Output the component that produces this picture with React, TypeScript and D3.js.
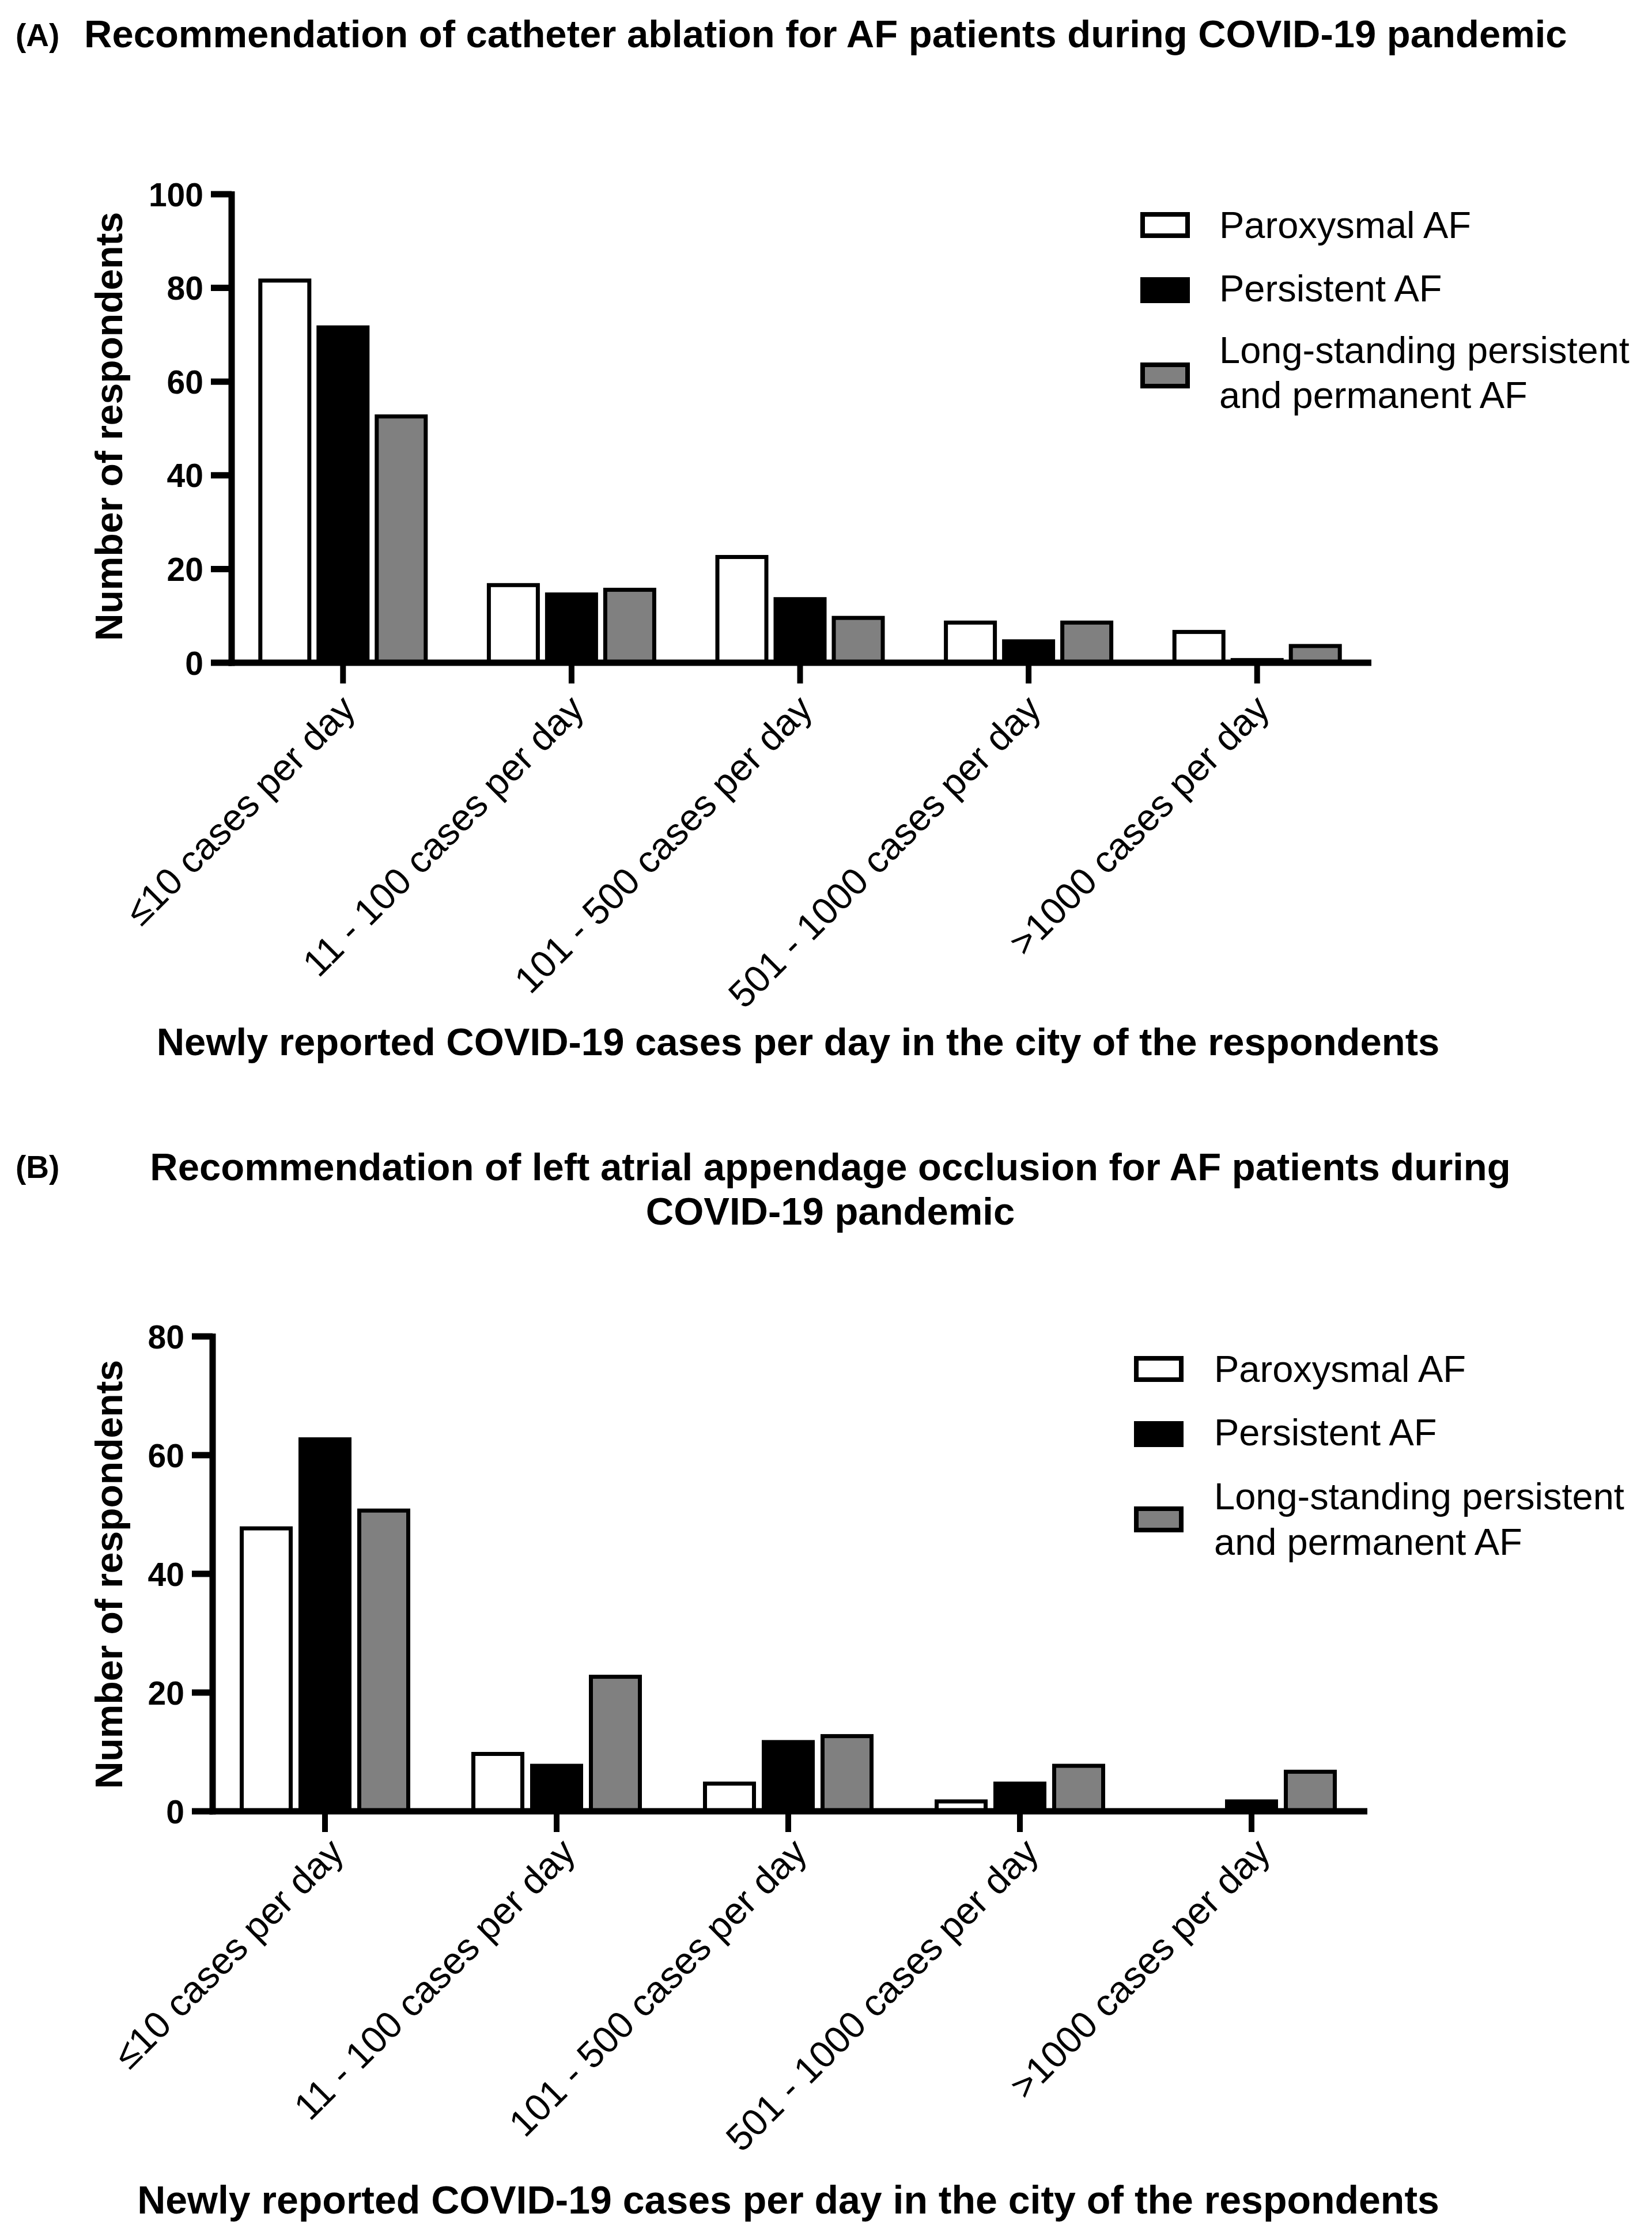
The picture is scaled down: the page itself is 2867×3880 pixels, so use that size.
import React from "react";
import * as d3 from "d3";

const categories = [
  "≤10 cases per day",
  "11 - 100 cases per day",
  "101 - 500 cases per day",
  "501 - 1000 cases per day",
  ">1000 cases per day",
];
const seriesNames = ["Paroxysmal AF", "Persistent AF", "Long-standing persistent and permanent AF"];
const seriesLegendLines = [["Paroxysmal AF"], ["Persistent AF"], ["Long-standing persistent", "and permanent AF"]];
const seriesFills = ["#ffffff", "#000000", "#808080"];

// Panel A: catheter ablation
const ablationParoxysmal = [82, 17, 23, 9, 7];
const ablationPersistent = [72, 15, 14, 5, 1];
const ablationLongStanding = [53, 16, 10, 9, 4];
const ablationTicks = [0, 20, 40, 60, 80, 100];

// Panel B: left atrial appendage occlusion
const laaoParoxysmal = [48, 10, 5, 2, 0];
const laaoPersistent = [63, 8, 12, 5, 2];
const laaoLongStanding = [51, 23, 13, 8, 7];
const laaoTicks = [0, 20, 40, 60, 80];

const titleA = ["Recommendation of catheter ablation for AF patients during COVID-19 pandemic"];
const titleB = ["Recommendation of left atrial appendage occlusion for AF patients during", "COVID-19 pandemic"];
const yTitle = "Number of respondents";
const xTitle = "Newly reported COVID-19 cases per day in the city of the respondents";

const FONT = "'Liberation Sans', Arial, Helvetica, sans-serif";

type PanelProps = {
  label: string;
  labelY: number;
  titleLines: string[];
  titleAnchor: "start" | "middle";
  titleX: number;
  titleBaselines: number[];
  series: number[][];
  ticks: number[];
  yMax: number;
  axisX: number;
  xRange: [number, number];
  y0: number;
  yTop: number;
  barStep: number;
  legendSwatchX: number;
  legendSwatchTops: number[];
  legendTextX: number;
  legendBaselines: number[][];
  yTitleX: number;
  yTitleY: number;
  xTitleX: number;
  xTitleY: number;
  xTitleSize: number;
  tickLabelDx: number;
  tickLabelDy: number;
};

function Panel(p: PanelProps) {
  const x = d3.scaleBand<string>().domain(categories).range(p.xRange).padding(0);
  const sub = d3.scalePoint<number>().domain([0, 1, 2]).range([-p.barStep, p.barStep]);
  const y = d3.scaleLinear().domain([0, p.yMax]).range([p.y0, p.yTop]);
  const sw = 7;
  const barW = 92 - sw;
  const axisW = 11;
  const tickLen = 36;

  return (
    <g>
      <text x={27} y={p.labelY} fontFamily={FONT} fontWeight="bold" fontSize={55}>
        {p.label}
      </text>
      {p.titleLines.map((t, i) => (
        <text
          key={i}
          x={p.titleX}
          y={p.titleBaselines[i]}
          textAnchor={p.titleAnchor}
          fontFamily={FONT}
          fontWeight="bold"
          fontSize={67}
        >
          {t}
        </text>
      ))}

      {/* bars */}
      {p.series.map((vals, s) =>
        vals.map((v, i) => {
          const cx = (x(categories[i]) as number) + x.bandwidth() / 2 + (sub(s) as number);
          const top = y(v) + sw / 2;
          const h = p.y0 - top;
          if (v <= 0 || h <= 0) return null;
          return (
            <rect
              key={`${s}-${i}`}
              x={cx - barW / 2}
              y={top}
              width={barW}
              height={h}
              fill={seriesFills[s]}
              stroke="#000"
              strokeWidth={sw}
            />
          );
        })
      )}

      {/* y axis */}
      <line x1={p.axisX} x2={p.axisX} y1={p.yTop - 5} y2={p.y0 + axisW / 2} stroke="#000" strokeWidth={axisW} />
      {p.ticks.map((t) => (
        <g key={t}>
          <line
            x1={p.axisX - tickLen}
            x2={p.axisX}
            y1={y(t)}
            y2={y(t)}
            stroke="#000"
            strokeWidth={axisW}
          />
          <text
            x={p.axisX - tickLen - 13}
            y={y(t)}
            dy="0.36em"
            textAnchor="end"
            fontFamily={FONT}
            fontWeight="bold"
            fontSize={57}
          >
            {t}
          </text>
        </g>
      ))}

      {/* x axis */}
      <line
        x1={p.axisX - axisW / 2}
        x2={p.xRange[1]}
        y1={p.y0}
        y2={p.y0}
        stroke="#000"
        strokeWidth={axisW}
      />
      {categories.map((c) => {
        const cx = (x(c) as number) + x.bandwidth() / 2;
        return (
          <g key={c}>
            <line x1={cx} x2={cx} y1={p.y0} y2={p.y0 + 36} stroke="#000" strokeWidth={10} />
            <text
              transform={`translate(${cx + p.tickLabelDx},${p.y0 + p.tickLabelDy}) rotate(-45)`}
              textAnchor="end"
              fontFamily={FONT}
              fontSize={65}
            >
              {c}
            </text>
          </g>
        );
      })}

      {/* axis titles */}
      <text
        transform={`translate(${p.yTitleX},${p.yTitleY}) rotate(-90)`}
        textAnchor="middle"
        fontFamily={FONT}
        fontWeight="bold"
        fontSize={66}
      >
        {yTitle}
      </text>
      <text
        x={p.xTitleX}
        y={p.xTitleY}
        textAnchor="middle"
        fontFamily={FONT}
        fontWeight="bold"
        fontSize={p.xTitleSize}
      >
        {xTitle}
      </text>

      {/* legend */}
      {seriesNames.map((name, s) => (
        <g key={name}>
          <rect
            x={p.legendSwatchX + 4}
            y={p.legendSwatchTops[s] + 4}
            width={86 - 8}
            height={45 - 8}
            fill={seriesFills[s]}
            stroke="#000"
            strokeWidth={8}
          />
          {seriesLegendLines[s].map((line, j) => (
            <text
              key={j}
              x={p.legendTextX}
              y={p.legendBaselines[s][j]}
              fontFamily={FONT}
              fontSize={65}
            >
              {line}
            </text>
          ))}
        </g>
      ))}
    </g>
  );
}

export default function App() {
  return (
    <svg
      width={2867}
      height={3880}
      viewBox="0 0 2867 3880"
      style={{ position: "absolute", left: 0, top: 0, background: "#fff" }}
    >
      <rect x={0} y={0} width={2867} height={3880} fill="#fff" />
      <Panel
        label="(A)"
        labelY={80}
        titleLines={titleA}
        titleAnchor="start"
        titleX={146}
        titleBaselines={[82]}
        series={[ablationParoxysmal, ablationPersistent, ablationLongStanding]}
        ticks={ablationTicks}
        yMax={100}
        axisX={402}
        xRange={[397, 2380]}
        y0={1150}
        yTop={337}
        barStep={101}
        legendSwatchX={1979}
        legendSwatchTops={[368, 481, 629]}
        legendTextX={2116}
        legendBaselines={[[413], [523], [630, 708]]}
        yTitleX={212}
        yTitleY={740}
        xTitleX={1385}
        xTitleY={1831}
        xTitleSize={67}
        tickLabelDx={25}
        tickLabelDy={84}
      />
      <Panel
        label="(B)"
        labelY={2044}
        titleLines={titleB}
        titleAnchor="middle"
        titleX={1441}
        titleBaselines={[2048, 2125]}
        series={[laaoParoxysmal, laaoPersistent, laaoLongStanding]}
        ticks={laaoTicks}
        yMax={80}
        axisX={369}
        xRange={[363, 2373]}
        y0={3143}
        yTop={2319}
        barStep={102}
        legendSwatchX={1968}
        legendSwatchTops={[2353, 2466, 2614]}
        legendTextX={2107}
        legendBaselines={[[2398], [2508], [2619, 2698]]}
        yTitleX={212}
        yTitleY={2732}
        xTitleX={1368}
        xTitleY={3841}
        xTitleSize={68}
        tickLabelDx={36}
        tickLabelDy={75}
      />
    </svg>
  );
}
